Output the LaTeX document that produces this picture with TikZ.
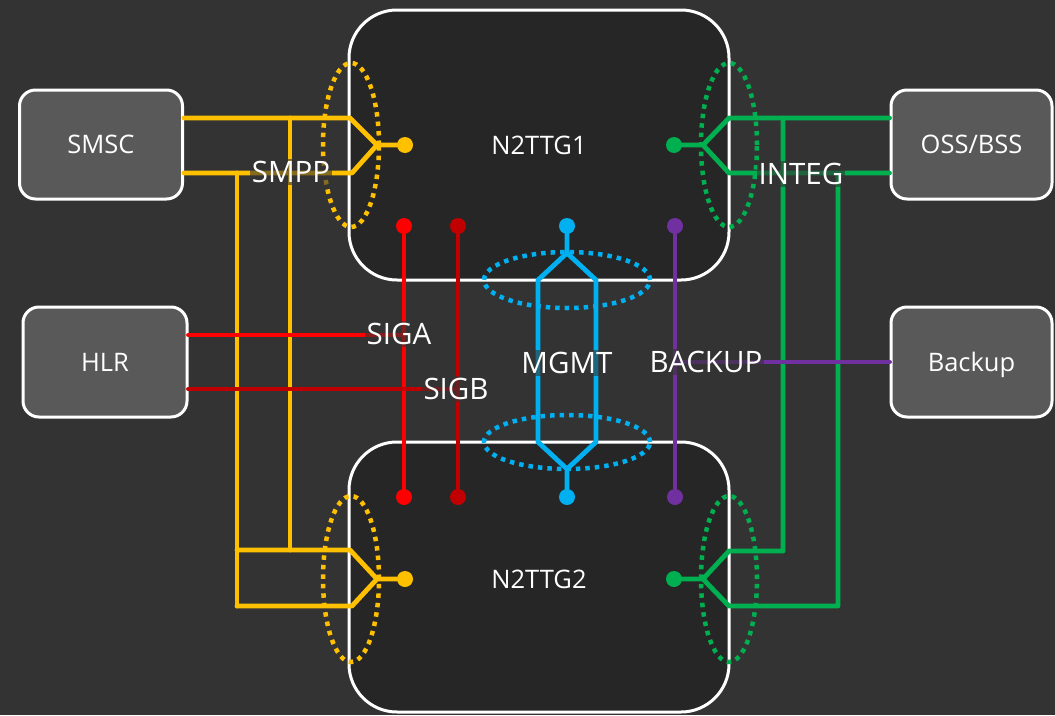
\documentclass[tikz,border=0pt]{standalone}
\usepackage{fontspec}
\setmainfont{Open Sans}
\definecolor{bg}{HTML}{333333}
\definecolor{bigfill}{HTML}{262626}
\definecolor{smallfill}{HTML}{595959}
\definecolor{cyel}{HTML}{FFC000}
\definecolor{cgrn}{HTML}{00B050}
\definecolor{cblu}{HTML}{00B0F0}
\definecolor{cred}{HTML}{FF0000}
\definecolor{cdred}{HTML}{C00000}
\definecolor{cpur}{HTML}{7030A0}
\begin{document}
\begin{tikzpicture}[x=1pt,y=-1pt,
  boxfont/.style={font=\fontsize{25.5}{30}\selectfont, text height=20pt, text depth=2pt},
  bigbox/.style={draw=white, line width=3pt, fill=bigfill, rounded corners=48pt,
    minimum width=380pt, minimum height=270pt, text=white, boxfont},
  smallbox/.style={draw=white, line width=3pt, fill=smallfill, rounded corners=16pt,
    minimum width=163pt, minimum height=109pt, text=white, boxfont},
  wire/.style={line width=4.8pt, line join=round, line cap=round},
  dotnode/.style={circle, inner sep=0pt, minimum size=16pt},
  ring/.style={line width=4.5pt, dash pattern=on 4.5pt off 5pt},
  lab/.style={fill=bg, fill opacity=0.6, text opacity=1, text=white, inner sep=2pt,
    font=\fontsize{29.5}{34}\selectfont}
]
\fill[bg] (0,0) rectangle (1055,715);
\useasboundingbox (0,0) rectangle (1055,715);

% big boxes
\node[bigbox] (g1) at (539,145) {N2TTG1};
\node[bigbox] (g2) at (539,577) {};
\node[text=white, boxfont] (g2t) at (539,579) {N2TTG2};

% small boxes
\node[smallbox] (smsc) at (101,144.5) {SMSC};
\node[smallbox, minimum width=164pt, minimum height=110pt] (hlr) at (105,362) {HLR};
\node[smallbox, minimum width=161pt] (oss) at (971.5,144.5) {OSS/BSS};
\node[smallbox, minimum width=161pt, minimum height=110pt] (bkp) at (971.5,362) {Backup};

% ---------------- yellow (SMPP)
\node[dotnode, fill=cyel] (yd1) at (405,145) {};
\node[dotnode, fill=cyel] (yd2) at (405,579) {};
\coordinate (yf1) at (377,145);
\coordinate (yf2) at (377,579);
\coordinate (ya1) at (350,118);
\coordinate (yb1) at (352,173);
\coordinate (ya2) at (350,550);
\coordinate (yb2) at (352,606);
\coordinate (yv1t) at (290,118);
\coordinate (yv1b) at (290,550);
\coordinate (yv2t) at (237,173);
\coordinate (yv2b) at (237,606);
\begin{scope}[cyel]
\draw[wire] (smsc.east |- ya1) -- (ya1) -- (yf1) -- (yd1);
\draw[wire] (smsc.east |- yb1) -- (yb1) -- (yf1);
\draw[wire] (yv1t) -- (yv1b);
\draw[wire] (yv2t) -- (yv2b);
\draw[wire] (yv2b |- ya2) -- (ya2) -- (yf2) -- (yd2);
\draw[wire] (yv2b) -- (yb2) -- (yf2);
\draw[ring] (351,145) ellipse [x radius=28pt, y radius=82pt];
\draw[ring] (351,579) ellipse [x radius=28pt, y radius=83pt];
\end{scope}

% ---------------- green (INTEG)
\node[dotnode, fill=cgrn] (gd1) at (674,145) {};
\node[dotnode, fill=cgrn] (gd2) at (674,579) {};
\coordinate (gf1) at (703,145);
\coordinate (gf2) at (703,579);
\coordinate (ga1) at (729,118);
\coordinate (gb1) at (729,173);
\coordinate (ga2) at (729,551);
\coordinate (gb2) at (729,606);
\coordinate (gv1t) at (783,118);
\coordinate (gv1b) at (783,551);
\coordinate (gv2t) at (838,173);
\coordinate (gv2b) at (838,606);
\begin{scope}[cgrn]
\draw[wire] (oss.west |- ga1) -- (ga1) -- (gf1) -- (gd1);
\draw[wire] (oss.west |- gb1) -- (gb1) -- (gf1);
\draw[wire] (gv1t) -- (gv1b) -- (ga2) -- (gf2) -- (gd2);
\draw[wire] (gv2t) -- (gv2b) -- (gb2) -- (gf2);
\draw[ring] (729,145) ellipse [x radius=28pt, y radius=82pt];
\draw[ring] (729,579) ellipse [x radius=28pt, y radius=83pt];
\end{scope}

% ---------------- red (SIGA / SIGB)
\node[dotnode, fill=cred] (ra1) at (404,226) {};
\node[dotnode, fill=cred] (ra2) at (404,497) {};
\node[dotnode, fill=cdred] (rb1) at (458,226) {};
\node[dotnode, fill=cdred] (rb2) at (458,497) {};
\coordinate (raj) at (404,335);
\coordinate (rbj) at (458,389);
\draw[wire, cred] (ra1) -- (ra2);
\draw[wire, cred] (hlr.east |- raj) -- (raj);
\draw[wire, cdred] (rb1) -- (rb2);
\draw[wire, cdred] (hlr.east |- rbj) -- (rbj);

% ---------------- blue (MGMT)
\node[dotnode, fill=cblu] (bd1) at (567,226) {};
\node[dotnode, fill=cblu] (bd2) at (567,497) {};
\coordinate (bf1) at (567,253);
\coordinate (bf2) at (567,469);
\coordinate (bl1) at (538,280);
\coordinate (br1) at (596,280);
\coordinate (bl2) at (538,442);
\coordinate (br2) at (596,442);
\begin{scope}[cblu]
\draw[wire] (bd1) -- (bf1) -- (bl1) -- (bl2) -- (bf2) -- (bd2);
\draw[wire] (bf1) -- (br1) -- (br2) -- (bf2);
\draw[ring] (567,280) ellipse [x radius=83pt, y radius=28pt];
\draw[ring] (567,442) ellipse [x radius=83pt, y radius=27pt];
\end{scope}

% ---------------- purple (BACKUP)
\node[dotnode, fill=cpur] (pd1) at (675,226) {};
\node[dotnode, fill=cpur] (pd2) at (675,497) {};
\coordinate (pj) at (675,362);
\draw[wire, cpur] (pd1) -- (pd2);
\draw[wire, cpur] (pj) -- (bkp.west |- pj);

% ---------------- labels
\node[lab] (lsmpp) at (291,172) {SMPP};
\node[lab] (linteg) at (801,174) {INTEG};
\node[lab] (lsiga) at (399,334) {SIGA};
\node[lab] (lsigb) at (456,389) {SIGB};
\node[lab] (lmgmt) at (567,363) {MGMT};
\node[lab] (lbackup) at (706,362) {BACKUP};
\end{tikzpicture}
\end{document}
